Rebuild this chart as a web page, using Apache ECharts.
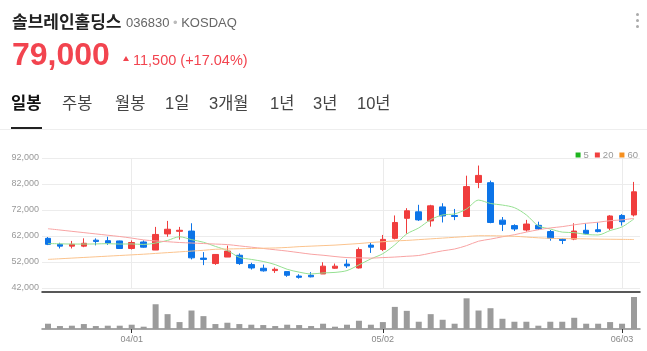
<!DOCTYPE html>
<html>
<head>
<meta charset="utf-8">
<script src="https://cdn.jsdelivr.net/npm/echarts@6/dist/echarts.min.js"></script>
<style>
  html, body { margin: 0; padding: 0; background: #fff; }
  #wrap { position: relative; width: 647px; height: 351px; overflow: hidden; font-family: "Liberation Sans", Arial, "Noto Sans CJK KR", sans-serif; }
  #chart { position: absolute; left: 0; top: 0; width: 647px; height: 351px; }
  .t { position: absolute; white-space: nowrap; }
  .tab { position: absolute; top: 95px; font-size: 16.5px; line-height: 17px; color: #444; font-family: "Liberation Sans", "Noto Sans CJK KR", sans-serif; }
  .dot { position: absolute; left: 636px; width: 3px; height: 3px; border-radius: 50%; background: #aaa; }
</style>
</head>
<body>
<div id="wrap">
  <div id="chart"></div>
  <div class="t" style="left:12px; top:12px; font-size:17px; line-height:18px; font-weight:bold; color:#222; font-family:'Noto Sans CJK KR',sans-serif;">솔브레인홀딩스</div>
  <div class="t" style="left:126px; top:16px; font-size:13px; line-height:13px; color:#666;">036830 <span style="color:#bbb">•</span> KOSDAQ</div>
  <div class="t" style="left:12px; top:38px; font-size:32px; line-height:32px; font-weight:bold; color:#f2444f;">79,000</div>
  <div class="t" style="left:123px; top:56px; width:0; height:0; border-left:3.5px solid transparent; border-right:3.5px solid transparent; border-bottom:5px solid #f2444f;"></div>
  <div class="t" style="left:133px; top:53px; font-size:14.5px; line-height:14px; color:#f2444f;">11,500 (+17.04%)</div>
  <div class="tab" style="left:11px; color:#111; font-weight:bold;">일봉</div>
  <div class="tab" style="left:62px;">주봉</div>
  <div class="tab" style="left:115px;">월봉</div>
  <div class="tab" style="left:165px;">1일</div>
  <div class="tab" style="left:209px;">3개월</div>
  <div class="tab" style="left:270px;">1년</div>
  <div class="tab" style="left:313px;">3년</div>
  <div class="tab" style="left:357px;">10년</div>
  <div class="t" style="left:0; top:129px; width:647px; height:1px; background:#eee;"></div>
  <div class="t" style="left:11px; top:127px; width:31px; height:2px; background:#222;"></div>
  <div class="dot" style="top:13px;"></div>
  <div class="dot" style="top:19px;"></div>
  <div class="dot" style="top:25px;"></div>
</div>
<script>
const dates = ['03/21','03/22','03/25','03/26','03/27','03/28','03/29',
  '04/01','04/02','04/03','04/04','04/05','04/08','04/09','04/11','04/12','04/15','04/16','04/17','04/18','04/19',
  '04/22','04/23','04/24','04/25','04/26','04/29','04/30',
  '05/02','05/03','05/07','05/08','05/09','05/10','05/13','05/14','05/16','05/17','05/20','05/21','05/22','05/23','05/24',
  '05/27','05/28','05/29','05/30','05/31','06/03','06/04'];

const openP = [61100,58800,58100,58100,60400,60200,60100,57200,59700,56600,
  62800,63800,63900,53500,51400,53900,54600,51000,49600,48700,
  48300,46600,46900,47400,49600,51200,49700,58500,56800,61100,
  68800,71300,67800,73200,69900,69500,82600,82500,68100,66000,
  64300,66100,63700,60800,60800,64200,64400,65000,69900,70100];
const closeP = [58800,58100,58800,59200,59900,59300,57200,59500,57700,62600,
  64600,64200,53600,53000,54900,56200,51400,49700,48600,49200,
  46900,46100,46300,50400,50400,50500,56800,57700,60700,67200,
  71700,68200,73600,69700,69500,81000,85300,67200,66500,64700,
  66600,64700,61100,60300,63900,62900,63700,69700,67500,79000];
const lowP = [58500,57200,57200,57700,58400,58600,57000,56800,57500,56600,
  61700,60600,53000,50800,50900,53900,50900,49100,48300,47800,
  46300,45600,46100,47400,49400,49700,49500,55500,56200,60700,
  62900,67800,65600,67200,68100,69500,80400,66900,63900,63900,
  63700,64300,60200,58900,60400,62600,63400,64300,66000,69500];
const highP = [61600,59400,60100,61100,61100,61700,60200,60300,60300,65500,
  67800,65500,66900,55800,54900,58300,55300,51700,51000,49900,
  48300,47300,48100,51900,51400,53000,57600,59500,62400,69900,
  72700,74000,74000,74600,72400,85200,89100,83300,69300,66500,
  68200,67500,64300,61100,66900,66900,67300,70000,70400,82800];

const ma5 = [59100,59000,58900,58900,58950,59050,58900,58950,58750,59300,
  60300,61700,60600,59600,58000,56400,53800,53000,52200,51000,
  49200,48100,47400,47800,48000,48700,50900,53200,55200,58600,
  62800,65100,68300,70100,70500,72400,75800,74500,73900,72900,
  70100,65900,64700,63500,63300,62600,62400,64100,65500,68600];
const ma20 = [64800,64300,63800,63300,62800,62300,61800,61200,60500,60100,
  59800,59500,59300,59100,58900,58700,58200,57700,57200,56700,
  56200,55600,55000,54600,54100,53700,53600,53500,53700,53900,
  54200,54500,55400,56300,57000,58300,60000,60800,61700,62500,
  63500,64400,65100,65600,66300,66900,67300,67900,68200,68800];
const ma60 = [53000,53250,53500,53750,54000,54250,54500,54750,55000,55300,
  55600,55900,56200,56500,56900,57000,57100,57200,57300,57400,
  57600,57900,58100,58300,58500,58800,59100,59500,59800,60100,
  60300,60600,60900,61200,61500,61800,62100,62100,62000,61900,
  61600,61300,61100,61000,60950,60900,60800,60750,60700,60650];

const volume = [160000,90000,100000,150000,90000,100000,100000,130000,70000,750000,
  450000,210000,560000,390000,150000,190000,150000,130000,120000,90000,
  130000,120000,90000,160000,70000,130000,250000,130000,210000,670000,
  550000,220000,450000,280000,160000,930000,560000,630000,310000,220000,
  220000,100000,220000,220000,340000,160000,160000,210000,160000,970000];

const markDates = ['04/01', '05/02', '06/03'];

const UP = '#f03d3d', DOWN = '#0c74e8';
const candles = dates.map((d, i) => [openP[i], closeP[i], lowP[i], highP[i]]);
const showMark = (i) => markDates.includes(dates[i]);

const chart = echarts.init(document.getElementById('chart'), null, { renderer: 'canvas' });
chart.setOption({
  animation: false,
  textStyle: { fontFamily: 'Liberation Sans, Arial, sans-serif' },
  legend: {
    top: 145, right: 4, icon: 'rect', itemWidth: 5, itemHeight: 5, itemGap: 6,
    textStyle: { color: '#999', fontSize: 9.5, padding: [0, 0, 0, -2] },
    data: [
      { name: '5', itemStyle: { color: '#1eb41e' } },
      { name: '20', itemStyle: { color: '#f0403f' } },
      { name: '60', itemStyle: { color: '#f6901f' } },
    ],
  },
  grid: [
    { left: 42, right: 7, top: 158, height: 130 },
    { left: 42, right: 7, top: 296, height: 33 },
  ],
  xAxis: [
    { type: 'category', data: dates, gridIndex: 0, boundaryGap: true, offset: 4,
      axisLine: { lineStyle: { color: '#222', width: 1.5 } },
      axisTick: { show: false }, axisLabel: { show: false }, splitLine: { show: false } },
    { type: 'category', data: dates, gridIndex: 1, boundaryGap: true,
      axisLine: { lineStyle: { color: '#8a8a8a', width: 1.5 } },
      axisTick: { show: true, alignWithLabel: true, interval: (i) => showMark(i), length: 4, lineStyle: { color: '#333' } },
      axisLabel: { interval: (i) => showMark(i), color: '#888', fontSize: 9, margin: 6 },
      splitLine: { show: false } },
  ],
  yAxis: [
    { type: 'value', gridIndex: 0, min: 42000, max: 92000, interval: 10000,
      axisLine: { show: false }, axisTick: { show: false },
      axisLabel: { color: '#999', fontSize: 9, margin: 3, formatter: (v) => v.toLocaleString('en-US') },
      splitLine: { lineStyle: { color: '#ececec' } } },
    { type: 'value', gridIndex: 1, min: 0, max: 1000000, show: false, splitLine: { show: false } },
  ],
  series: [
    { name: 'candle', type: 'candlestick', xAxisIndex: 0, yAxisIndex: 0, data: candles, barWidth: 6,
      itemStyle: { color: UP, color0: DOWN, borderColor: UP, borderColor0: DOWN, borderWidth: 1 },
      markLine: { silent: true, z: 1, symbol: 'none', label: { show: false },
        lineStyle: { color: '#ebebeb', type: 'solid', width: 1 },
        data: markDates.map((d) => ({ xAxis: d })) } },
    { name: '5', type: 'line', data: ma5, showSymbol: false, smooth: 0.3, z: 3,
      lineStyle: { color: '#95e091', width: 1 }, itemStyle: { color: '#95e091' } },
    { name: '20', type: 'line', data: ma20, showSymbol: false, smooth: 0.3, z: 3,
      lineStyle: { color: '#f8a3a3', width: 1 }, itemStyle: { color: '#f8a3a3' } },
    { name: '60', type: 'line', data: ma60, showSymbol: false, smooth: 0.3, z: 3,
      lineStyle: { color: '#fbc38d', width: 1 }, itemStyle: { color: '#fbc38d' } },
    { name: 'vol', type: 'bar', xAxisIndex: 1, yAxisIndex: 1, data: volume, barWidth: 6,
      itemStyle: { color: '#9b9b9b' } },
  ],
});
</script>
</body>
</html>
